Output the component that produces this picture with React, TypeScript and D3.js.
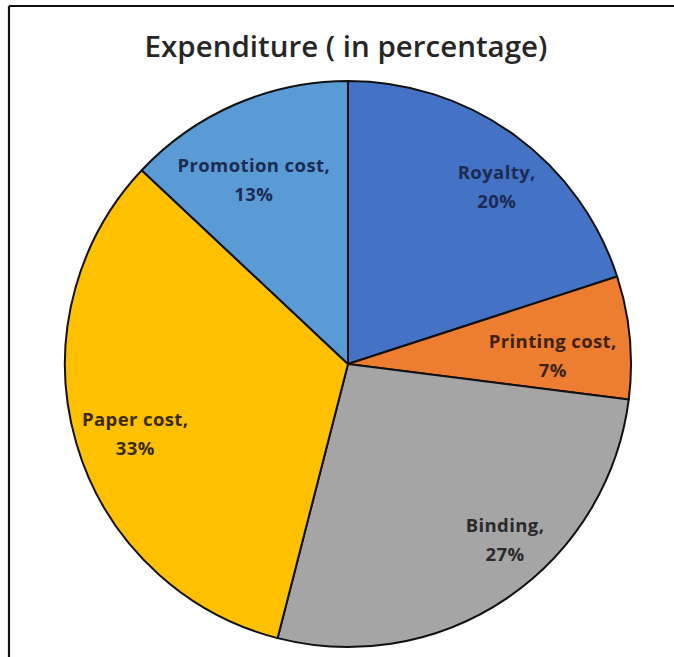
import React from "react";
import * as d3 from "d3";

const categories = ["Royalty", "Printing cost", "Binding", "Paper cost", "Promotion cost"];
const values = [20, 7, 27, 33, 13];
const colors = ["#4472C4", "#ED7D31", "#A5A5A5", "#FFC000", "#5B9BD5"];
const labelColors = ["#1C2B52", "#3E2410", "#2A2A2A", "#3A2B06", "#1C2B52"];
// label placement tweaks: angle offset (deg) from slice middle, radius fraction
const labelAngleOffset = [4.1, 3.2, -7.5, -2.1, -3.7];
const labelRadiusFrac = [0.816, 0.724, 0.834, 0.792, 0.731];
const title = "Expenditure ( in percentage)";

const W = 674;
const H = 657;
const cx = 348;
const cy = 364;
const R = 283;

export default function App() {
  const pie = d3.pie<number>().sort(null).value((d) => d)(values);
  const arc = d3.arc<d3.PieArcDatum<number>>().innerRadius(0).outerRadius(R);
  const font = "'Open Sans', Lato, sans-serif";

  return (
    <svg
      width={W}
      height={H}
      style={{ position: "absolute", left: 0, top: 0, background: "#fff" }}
    >
      <rect x={0} y={0} width={W} height={H} fill="#fff" />
      {/* frame */}
      <line x1={9} y1={6} x2={W} y2={6} stroke="#111" strokeWidth={2} />
      <line x1={9} y1={6} x2={9} y2={H} stroke="#111" strokeWidth={2.2} />
      <text
        x={346}
        y={57}
        textAnchor="middle"
        fontFamily={font}
        fontWeight={600}
        fontSize={29.5}
        fill="#262626"
      >
        {title}
      </text>
      <g transform={`translate(${cx},${cy})`}>
        {pie.map((p, i) => (
          <path
            key={categories[i]}
            d={arc(p) || ""}
            fill={colors[i]}
            stroke="#111"
            strokeWidth={2}
            strokeLinejoin="round"
          />
        ))}
        {pie.map((p, i) => {
          const mid = (p.startAngle + p.endAngle) / 2 + (labelAngleOffset[i] * Math.PI) / 180;
          const rr = R * labelRadiusFrac[i];
          const x = rr * Math.sin(mid);
          const y = -rr * Math.cos(mid);
          return (
            <text
              key={"l" + i}
              x={x}
              y={y}
              textAnchor="middle"
              fontFamily={font}
              fontWeight={700}
              fontSize={18.5}
              letterSpacing={0.4}
              fill={labelColors[i]}
            >
              <tspan x={x} y={y - 8}>{categories[i] + ","}</tspan>
              <tspan x={x} y={y + 21}>{values[i] + "%"}</tspan>
            </text>
          );
        })}
      </g>
    </svg>
  );
}
